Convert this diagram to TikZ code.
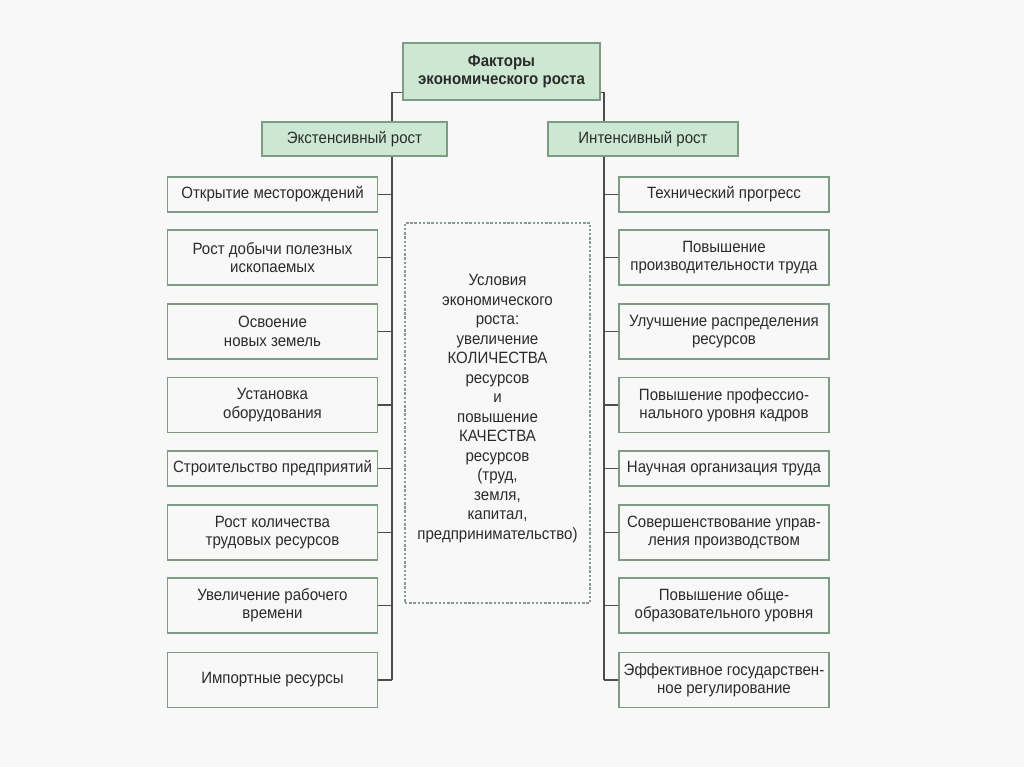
\documentclass[tikz,border=0pt]{standalone}
\usepackage{fontspec}
\setmainfont{Liberation Sans}[FakeStretch=0.92]

\definecolor{pagebg}{HTML}{F7F8F7}
\definecolor{boxgreen}{HTML}{CDE8D2}
\definecolor{boxline}{HTML}{7E9C84}
\definecolor{wireline}{HTML}{4D4D4D}
\definecolor{dashline}{HTML}{8A9A90}
\definecolor{inktext}{HTML}{2B2B2B}

\begin{document}
\begin{tikzpicture}[
    headbox/.style={draw=boxline, fill=boxgreen, line width=0.8pt, minimum width=3.94cm, minimum height=1.14cm, align=center, font=\fontsize{9.3}{10.4}\selectfont\bfseries},
    branchbox/.style={draw=boxline, fill=boxgreen, line width=0.8pt, minimum height=0.68cm, font=\fontsize{9.3}{10.4}\selectfont},
    leafbox/.style={draw=boxline, line width=0.8pt, minimum width=4.2cm, minimum height=0.70cm, align=center, inner sep=1pt, font=\fontsize{9.3}{10.4}\selectfont},
    tallbox/.style={leafbox, minimum height=1.10cm},
    condbox/.style={draw=dashline, dash pattern=on 1.4pt off 1pt, line width=0.8pt, minimum width=3.7cm, minimum height=7.6cm, align=center, font=\fontsize{9.3}{11.1}\selectfont},
    link/.style={draw=wireline, line width=0.9pt},
    text=inktext
]
    % Page
    \fill[pagebg] (0,0) rectangle (20.48,15.34);

    % Top and second level
    \node[headbox] (top) at (10.03, 13.91) {Факторы\\экономического роста};
    \node[branchbox, minimum width=3.70cm] (ext) at (7.09, 12.56) {Экстенсивный рост};
    \node[branchbox, minimum width=3.80cm] (int) at (12.86, 12.56) {Интенсивный рост};

    % Bus lines
    \coordinate (lbus) at (7.84, 0);
    \coordinate (rbus) at (12.08, 0);

    % Extensive factors (left column)
    \node[leafbox] (l1) at (5.45, 11.45) {Открытие месторождений};
    \node[tallbox] (l2) at (5.45, 10.19) {Рост добычи полезных\\ископаемых};
    \node[tallbox] (l3) at (5.45, 8.71) {Освоение\\новых земель};
    \node[tallbox] (l4) at (5.45, 7.24) {Установка\\оборудования};
    \node[leafbox] (l5) at (5.45, 5.97) {Строительство предприятий};
    \node[tallbox] (l6) at (5.45, 4.69) {Рост количества\\трудовых ресурсов};
    \node[tallbox] (l7) at (5.45, 3.23) {Увеличение рабочего\\времени};
    \node[tallbox] (l8) at (5.45, 1.74) {Импортные ресурсы};

    % Intensive factors (right column)
    \node[leafbox] (r1) at (14.48, 11.45) {Технический прогресс};
    \node[tallbox] (r2) at (14.48, 10.19) {Повышение\\производительности труда};
    \node[tallbox] (r3) at (14.48, 8.71) {Улучшение распределения\\ресурсов};
    \node[tallbox] (r4) at (14.48, 7.24) {Повышение профессио-\\нального уровня кадров};
    \node[leafbox] (r5) at (14.48, 5.97) {Научная организация труда};
    \node[tallbox] (r6) at (14.48, 4.69) {Совершенствование управ-\\ления производством};
    \node[tallbox] (r7) at (14.48, 3.23) {Повышение обще-\\образовательного уровня};
    \node[tallbox] (r8) at (14.48, 1.74) {Эффективное государствен-\\ное регулирование};

    % Conditions (centre)
    \node[condbox] (cond) at (9.95, 7.08) {Условия\\экономического\\роста:\\увеличение\\КОЛИЧЕСТВА\\ресурсов\\и\\повышение\\КАЧЕСТВА\\ресурсов\\(труд,\\земля,\\капитал,\\предпринимательство)\\[-0.15cm]};

    % Connectors
    \draw[link] ([yshift=0.16cm]top.south west) -| (ext.north -| lbus);
    \draw[link] ([yshift=0.16cm]top.south east) -| (int.north -| rbus);
    \draw[link] (ext.south -| lbus) -- (l8.east -| lbus);
    \draw[link] (int.south -| rbus) -- (r8.west -| rbus);
    \foreach \i in {1,...,8} {
        \draw[link] (l\i.east) -- (l\i.east -| lbus);
        \draw[link] (r\i.west) -- (r\i.west -| rbus);
    }
\end{tikzpicture}
\end{document}
